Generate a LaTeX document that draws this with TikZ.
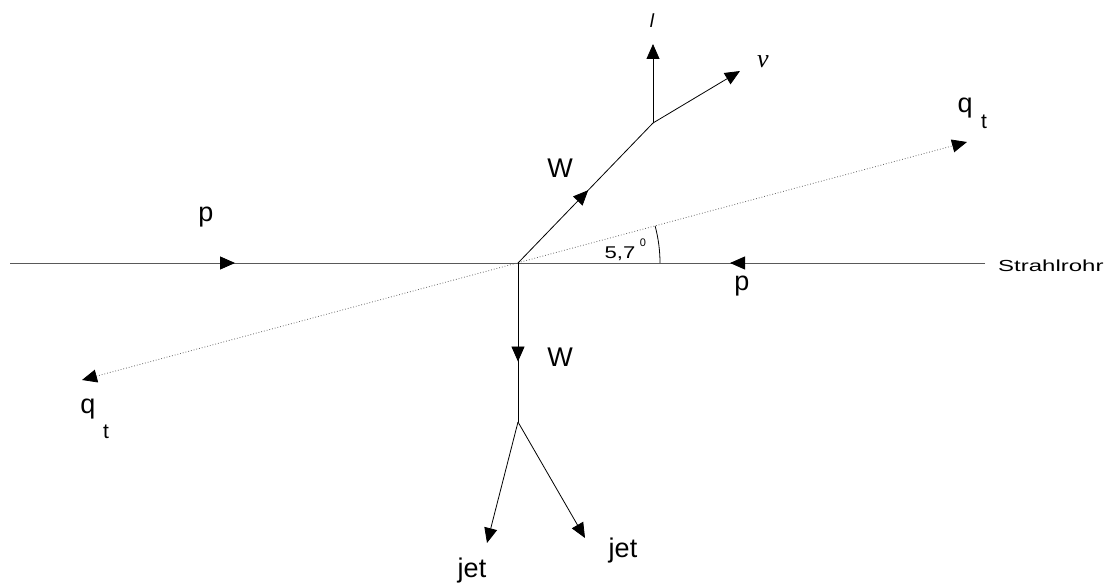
\documentclass[tikz,border=0pt]{standalone}
\usepackage{fontspec}
\setmainfont{Liberation Sans}
\newfontfamily\seriffont{Liberation Serif}
\usetikzlibrary{arrows.meta,decorations.markings}
\begin{document}
\begin{tikzpicture}[x=1pt,y=-1pt,
  tip/.tip={Triangle[length=15pt,width=13pt,color=black]},
  line/.style={line width=0.8pt,black},
  beam/.style={line width=0.9pt,black!65},
  track/.style={line width=0.8pt,dotted,black!60},
  midarrow/.style={postaction={decorate},decoration={markings,mark=at position #1 with {\arrow{tip}}}},
  lbl/.style={font=\fontsize{27}{30}\selectfont,inner sep=0pt,anchor=base}]
\useasboundingbox (0,0) rectangle (1106,583);
% points
\coordinate (L) at (10,263);
\coordinate (O) at (518,263);
\coordinate (R) at (985,263);
\coordinate (Wt) at (653,123);
\coordinate (ltip) at (653,44);
\coordinate (vtip) at (740,71);
\coordinate (Wb) at (518,422);
\coordinate (j1) at (487,543);
\coordinate (j2) at (585,538);
\coordinate (qa) at (967,142);
\coordinate (qb) at (82,380);
% beam
\draw[beam,midarrow=0.443] (L) -- (O);
\draw[beam,midarrow=0.546] (R) -- (O);
\node[font=\fontsize{16}{18}\selectfont,anchor=base west,inner sep=0pt] (strahl) at (998,271) {\scalebox{1.5}[1]{Strahlrohr}};
\node[lbl] (p1) at (206,222) {p};
\node[lbl] (p2) at (742,290) {p};
% q_t line
\draw[track,{tip}-{tip}] (qb) -- (qa);
\node[lbl] (q1) at (965,113) {q};
\node[lbl,font=\fontsize{21}{24}\selectfont] (t1) at (984,129) {t};
\node[lbl] (q2) at (88,413) {q};
\node[lbl,font=\fontsize{21}{24}\selectfont] (t2) at (106,438) {t};
% angle
\draw[line] (O) ++(142pt,0pt) arc[start angle=0,end angle=15.1,radius=142pt];
\node[font=\fontsize{17}{20}\selectfont,inner sep=0pt,anchor=base] (ang) at (620,258) {\scalebox{1.3}[1]{5,7}};
\node[font=\fontsize{11}{13}\selectfont,inner sep=0pt,anchor=base] (deg) at (643,246) {0};
% W up and leptons
\draw[line,midarrow=0.52] (O) -- (Wt);
\node[lbl] (W1) at (560,178) {W};
\draw[line,-{tip}] (Wt) -- (ltip);
\draw[line,-{tip}] (Wt) -- (vtip);
\node[font=\itshape\fontsize{19}{22}\selectfont,inner sep=0pt,anchor=base] (lL) at (652,28) {l};
\node[font=\seriffont\itshape\fontsize{26}{28}\selectfont,inner sep=0pt,anchor=base] (nu) at (763,68) {v};
% W down and jets
\draw[line,midarrow=0.62] (O) -- (Wb);
\node[lbl] (W2) at (560,366) {W};
\draw[line,-{tip}] (Wb) -- (j1);
\draw[line,-{tip}] (Wb) -- (j2);
\node[lbl] (jet1) at (472,577) {jet};
\node[lbl] (jet2) at (623,557) {jet};
\end{tikzpicture}
\end{document}
